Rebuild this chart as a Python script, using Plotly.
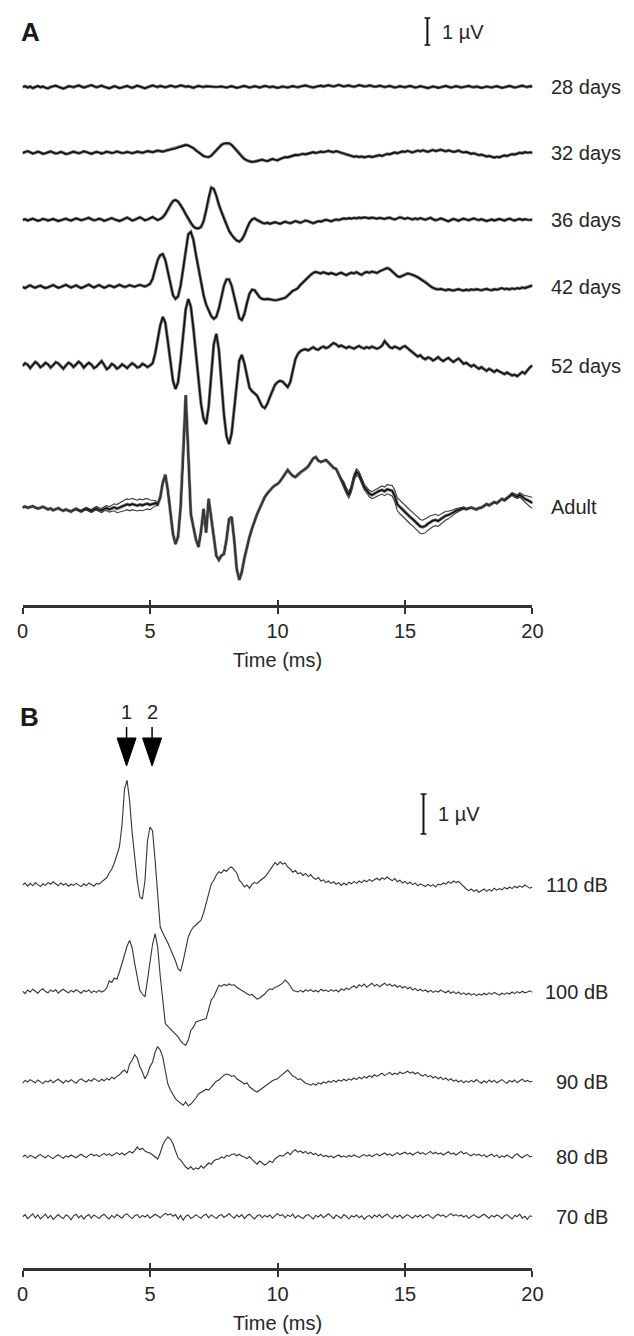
import numpy as np
import plotly.graph_objects as go

# ---------------- data (values in microvolts, sampled every 0.1 ms, 0-20 ms) ----------------
SAMPLE_MS = 0.1

A_LABELS = ["28 days", "32 days", "36 days", "42 days", "52 days", "Adult"]
B_LABELS = ["110 dB", "100 dB", "90 dB", "80 dB", "70 dB"]
TICKS_MS = [0, 5, 10, 15, 20]
WAVE_LATENCY_MS = [4.08, 5.08]
WAVE_NAMES = ["1", "2"]

d28 = [
    0.00, 0.03, -0.02, 0.02, -0.04, 0.01, 0.04, -0.01, 0.02, -0.03,
    -0.05, 0.00, 0.03, 0.05, 0.01, -0.03, -0.06, -0.02, 0.03, 0.02,
    -0.01, 0.03, 0.06, 0.02, -0.02, 0.01, 0.04, 0.07, 0.03, -0.01,
    0.02, 0.05, 0.01, -0.03, -0.05, -0.01, 0.03, 0.00, -0.04, -0.02,
    0.02, 0.04, 0.00, -0.03, 0.01, 0.05, 0.02, -0.02, -0.05, -0.01,
    0.03, 0.06, 0.03, 0.00, 0.04, 0.02, -0.01, 0.02, 0.05, 0.03,
    0.00, 0.03, 0.06, 0.04, 0.01, 0.03, 0.00, -0.03, 0.01, 0.04,
    0.02, 0.00, 0.03, 0.02, 0.01, 0.02, 0.00, 0.01, 0.02, 0.00,
    -0.02, 0.01, 0.03, 0.00, -0.03, -0.01, 0.02, 0.04, 0.01, -0.02,
    0.00, 0.03, 0.01, -0.02, 0.01, 0.04, 0.02, -0.01, 0.02, 0.00,
    -0.03, -0.01, 0.02, 0.00, -0.02, 0.01, 0.03, 0.01, -0.01, 0.02,
    0.04, 0.06, 0.03, 0.00, -0.02, 0.01, 0.04, 0.05, 0.02, 0.05,
    0.07, 0.04, 0.02, 0.05, 0.08, 0.05, 0.02, 0.04, 0.06, 0.03,
    0.01, 0.04, 0.07, 0.05, 0.02, 0.03, 0.06, 0.04, 0.01, 0.02,
    0.05, 0.03, 0.00, 0.02, 0.04, 0.01, -0.02, 0.00, 0.03, 0.01,
    -0.01, 0.02, 0.04, 0.01, -0.02, 0.00, 0.03, 0.01, -0.02, -0.04,
    -0.01, 0.02, 0.00, -0.03, -0.01, 0.02, 0.04, 0.01, -0.02, 0.00,
    0.03, 0.01, -0.02, 0.00, 0.02, 0.04, 0.01, -0.01, 0.02, 0.00,
    -0.03, -0.01, 0.02, 0.00, -0.02, 0.01, 0.03, 0.00, -0.03, -0.01,
    0.02, 0.04, 0.01, -0.02, 0.00, 0.03, 0.05, 0.02, 0.00, 0.03,
    0.02,
]

d32 = [
    0.00, 0.04, 0.07, 0.03, -0.02, 0.01, 0.05, 0.02, -0.03, -0.01,
    0.03, 0.06, 0.02, -0.02, 0.00, 0.04, 0.01, -0.04, -0.02, 0.02,
    0.05, 0.02, -0.01, 0.02, 0.06, 0.04, 0.00, -0.03, 0.01, 0.04,
    0.02, -0.02, 0.01, 0.05, 0.03, 0.00, 0.02, 0.06, 0.03, 0.00,
    0.01, 0.04, 0.02, -0.01, 0.02, 0.05, 0.03, 0.01, 0.04, 0.07,
    0.05, 0.03, 0.06, 0.09, 0.07, 0.05, 0.08, 0.11, 0.13, 0.15,
    0.17, 0.20, 0.24, 0.28, 0.30, 0.28, 0.24, 0.18, 0.10, 0.02,
    -0.05, -0.11, -0.14, -0.15, -0.10, 0.00, 0.12, 0.22, 0.30, 0.35,
    0.37, 0.36, 0.30, 0.20, 0.08, -0.04, -0.14, -0.22, -0.28, -0.31,
    -0.33, -0.32, -0.30, -0.27, -0.25, -0.28, -0.30, -0.26, -0.22, -0.25,
    -0.27, -0.22, -0.18, -0.15, -0.16, -0.12, -0.10, -0.07, -0.08, -0.05,
    -0.03, -0.05, -0.02, 0.01, 0.03, 0.00, 0.02, 0.05, 0.03, 0.06,
    0.08, 0.05, 0.03, 0.07, 0.04, 0.00, -0.03, -0.07, -0.10, -0.12,
    -0.14, -0.12, -0.15, -0.13, -0.16, -0.14, -0.12, -0.15, -0.13, -0.10,
    -0.08, -0.11, -0.07, -0.03, -0.05, -0.01, 0.02, -0.01, 0.03, 0.06,
    0.04, 0.08, 0.05, 0.02, 0.06, 0.09, 0.06, 0.10, 0.07, 0.04,
    0.08, 0.11, 0.07, 0.10, 0.12, 0.09, 0.06, 0.10, 0.07, 0.04,
    0.06, 0.09, 0.05, 0.02, 0.04, 0.00, -0.03, -0.01, -0.05, -0.08,
    -0.06, -0.10, -0.13, -0.11, -0.15, -0.17, -0.14, -0.16, -0.12, -0.09,
    -0.11, -0.07, -0.04, -0.06, -0.02, 0.01, -0.01, 0.03, 0.01, 0.03,
    0.02,
]

d36 = [
    0.00, 0.03, -0.02, 0.02, 0.05, 0.01, -0.03, 0.00, 0.04, 0.02,
    -0.02, 0.01, 0.04, 0.00, -0.04, -0.01, 0.03, 0.05, 0.01, -0.02,
    0.02, 0.06, 0.03, -0.01, 0.02, 0.05, 0.08, 0.03, -0.01, 0.01,
    0.05, 0.02, -0.03, 0.00, 0.04, 0.07, 0.03, -0.02, -0.04, 0.00,
    0.06, 0.09, 0.04, -0.02, 0.01, 0.07, 0.10, 0.05, -0.01, 0.02,
    0.08, 0.11, 0.05, 0.00, 0.04, 0.10, 0.22, 0.40, 0.58, 0.70,
    0.74, 0.68, 0.55, 0.40, 0.22, 0.05, -0.12, -0.24, -0.30, -0.31,
    -0.26, -0.05, 0.35, 0.85, 1.20, 1.15, 0.90, 0.55, 0.30, 0.05,
    -0.20, -0.40, -0.55, -0.68, -0.76, -0.80, -0.72, -0.55, -0.30, -0.10,
    0.02, 0.06, 0.00, -0.06, -0.10, -0.13, -0.10, -0.14, -0.12, -0.08,
    -0.11, -0.14, -0.10, -0.06, -0.09, -0.12, -0.08, -0.04, -0.07, -0.10,
    -0.06, -0.02, -0.05, -0.09, -0.12, -0.08, -0.04, -0.06, -0.02, 0.01,
    -0.02, -0.05, -0.01, 0.02, 0.00, 0.03, 0.06, 0.04, 0.07, 0.05,
    0.08, 0.06, 0.09, 0.07, 0.10, 0.08, 0.06, 0.09, 0.07, 0.05,
    0.08, 0.06, 0.04, 0.07, 0.09, 0.05, 0.02, 0.06, 0.10, 0.07,
    0.04, 0.08, 0.05, 0.02, 0.06, 0.03, 0.07, 0.04, 0.01, 0.05,
    0.08, 0.03, -0.01, 0.02, 0.06, 0.03, -0.02, -0.05, 0.00, 0.04,
    0.01, -0.03, 0.02, 0.05, 0.02, -0.01, 0.03, 0.06, 0.02, 0.00,
    0.03, 0.00, -0.04, -0.01, 0.02, -0.02, 0.01, 0.04, 0.01, -0.02,
    0.02, 0.05, 0.01, -0.02, 0.02, 0.04, 0.00, 0.03, 0.01, 0.00,
    0.02,
]

d42 = [
    0.00, -0.04, 0.02, 0.06, 0.01, -0.03, 0.02, 0.05, 0.00, -0.04,
    -0.01, 0.04, 0.07, 0.02, -0.03, 0.00, 0.05, 0.08, 0.03, -0.02,
    0.02, 0.06, 0.01, -0.04, 0.00, 0.05, 0.09, 0.03, -0.02, 0.03,
    0.07, 0.02, -0.03, 0.01, 0.06, 0.03, -0.01, 0.04, 0.08, 0.04,
    0.00, 0.03, 0.07, 0.04, 0.01, 0.05, 0.08, 0.05, 0.02, 0.06,
    0.12, 0.30, 0.65, 1.00, 1.18, 1.22, 1.00, 0.55, 0.05, -0.30,
    -0.44, -0.35, 0.05, 0.70, 1.45, 1.95, 2.04, 1.75, 1.20, 0.65,
    0.15, -0.30, -0.65, -0.90, -1.08, -1.18, -1.10, -0.80, -0.35, 0.05,
    0.28, 0.28, 0.05, -0.35, -0.80, -1.15, -1.22, -1.00, -0.60, -0.25,
    -0.10, -0.12, -0.25, -0.38, -0.44, -0.46, -0.44, -0.46, -0.48, -0.49,
    -0.48, -0.46, -0.44, -0.40, -0.32, -0.22, -0.14, -0.10, -0.04, 0.08,
    0.18, 0.28, 0.37, 0.45, 0.52, 0.56, 0.53, 0.50, 0.55, 0.52,
    0.48, 0.52, 0.49, 0.45, 0.50, 0.53, 0.48, 0.44, 0.49, 0.53,
    0.50, 0.55, 0.49, 0.45, 0.52, 0.56, 0.53, 0.57, 0.55, 0.52,
    0.58, 0.63, 0.68, 0.70, 0.66, 0.58, 0.48, 0.40, 0.37, 0.42,
    0.47, 0.50, 0.48, 0.45, 0.42, 0.36, 0.30, 0.25, 0.18, 0.10,
    0.02, -0.04, -0.07, -0.09, -0.07, -0.10, -0.12, -0.09, -0.11, -0.13,
    -0.10, -0.08, -0.11, -0.13, -0.10, -0.12, -0.09, -0.11, -0.08, -0.10,
    -0.12, -0.09, -0.07, -0.10, -0.12, -0.08, -0.10, -0.07, -0.04, -0.08,
    -0.06, -0.09, -0.05, -0.08, -0.04, -0.06, -0.02, -0.04, 0.00, 0.03,
    0.06,
]

d52 = [
    0.00, 0.10, 0.05, -0.08, 0.04, 0.15, 0.08, -0.05, 0.02, 0.12,
    0.06, -0.06, 0.03, 0.14, 0.10, 0.00, -0.10, 0.02, 0.12, 0.07,
    -0.04, 0.06, 0.16, 0.08, -0.06, 0.04, 0.12, 0.05, -0.08, -0.02,
    0.10, 0.18, 0.04, -0.12, -0.05, 0.08, 0.02, -0.10, -0.04, 0.06,
    0.00, -0.08, 0.02, 0.10, 0.04, -0.06, -0.02, 0.08, 0.03, -0.04,
    0.02, 0.10, 0.45, 0.95, 1.50, 1.82, 1.60, 0.90, 0.10, -0.55,
    -0.85, -0.60, 0.20, 1.20, 2.10, 2.48, 2.20, 1.40, 0.40, -0.60,
    -1.40, -1.95, -2.15, -1.50, -0.30, 0.80, 1.19, 0.60, -0.60, -1.80,
    -2.60, -2.89, -2.50, -1.60, -0.60, 0.20, 0.41, 0.10, -0.35, -0.80,
    -0.93, -1.00, -1.10, -1.30, -1.50, -1.56, -1.40, -1.15, -0.90, -0.70,
    -0.60, -0.55, -0.58, -0.70, -0.78, -0.60, -0.15, 0.25, 0.45, 0.55,
    0.60, 0.62, 0.58, 0.65, 0.70, 0.63, 0.60, 0.68, 0.72, 0.66,
    0.70, 0.78, 0.85, 0.80, 0.72, 0.76, 0.70, 0.66, 0.72, 0.68,
    0.64, 0.70, 0.74, 0.68, 0.65, 0.70, 0.66, 0.72, 0.69, 0.64,
    0.68, 0.75, 0.92, 0.80, 0.70, 0.66, 0.72, 0.68, 0.63, 0.70,
    0.74, 0.66, 0.58, 0.50, 0.42, 0.35, 0.40, 0.30, 0.25, 0.32,
    0.28, 0.20, 0.26, 0.33, 0.24, 0.18, 0.25, 0.30, 0.22, 0.15,
    0.22, 0.28, 0.18, 0.08, 0.12, 0.05, -0.02, 0.04, -0.05, -0.10,
    -0.04, -0.12, -0.18, -0.10, -0.16, -0.22, -0.15, -0.20, -0.26, -0.30,
    -0.24, -0.30, -0.35, -0.32, -0.38, -0.30, -0.22, -0.28, -0.15, -0.05,
    0.02,
]

d_adult = [
    -0.02, 0.02, -0.03, -0.01, 0.03, -0.02, -0.06, -0.03, 0.01, -0.04,
    -0.09, -0.05, -0.12, -0.08, -0.04, -0.10, -0.14, -0.09, -0.13, -0.17,
    -0.11, -0.07, -0.12, -0.16, -0.10, -0.06, -0.11, -0.15, -0.09, -0.05,
    -0.10, -0.13, -0.07, -0.04, -0.09, -0.05, -0.01, -0.06, -0.02, 0.03,
    0.06, 0.10, 0.07, 0.11, 0.08, 0.05, 0.09, 0.06, 0.10, 0.12,
    0.08, 0.11, 0.14, 0.10, 0.35, 0.90, 1.19, 0.60, -0.30, -1.00,
    -1.37, -1.10, 0.00, 1.80, 4.15, 2.00, -0.26, -0.74, -1.20, -1.48,
    -0.90, -0.07, -0.95, 0.30, -0.40, -1.30, -1.80, -1.96, -1.80, -1.74,
    -1.20, -0.45, -0.37, -1.20, -2.30, -2.70, -2.40, -1.90, -1.45, -1.11,
    -0.80, -0.50, -0.26, -0.05, 0.15, 0.37, 0.50, 0.62, 0.72, 0.80,
    0.85, 0.95, 1.10, 1.25, 1.37, 1.25, 1.15, 1.11, 1.20, 1.30,
    1.35, 1.41, 1.50, 1.65, 1.80, 1.85, 1.72, 1.67, 1.70, 1.74,
    1.65, 1.55, 1.45, 1.41, 1.20, 1.00, 0.85, 0.60, 0.44, 0.70,
    1.10, 1.30, 1.20, 0.95, 0.74, 0.62, 0.50, 0.44, 0.48, 0.55,
    0.60, 0.63, 0.58, 0.66, 0.63, 0.60, 0.40, 0.10, 0.00, -0.10,
    -0.20, -0.28, -0.37, -0.45, -0.55, -0.65, -0.72, -0.74, -0.70, -0.62,
    -0.55, -0.50, -0.48, -0.52, -0.45, -0.38, -0.32, -0.30, -0.26, -0.20,
    -0.14, -0.10, -0.07, -0.04, -0.08, -0.05, -0.02, -0.06, -0.09, -0.04,
    -0.02, 0.04, 0.11, 0.06, 0.12, 0.18, 0.14, 0.22, 0.30, 0.25,
    0.32, 0.40, 0.48, 0.42, 0.38, 0.45, 0.37, 0.30, 0.26, 0.19,
    0.15,
]

# spread between the individual adult recordings (half-width, microvolts)
adult_spread = [
    0, 0, 0, 0, 0, 0, 0, 0, 0, 0,
    0, 0, 0, 0, 0, 0, 0, 0, 0, 0,
    0.02, 0.03, 0.03, 0.04, 0.04, 0.05, 0.05, 0.06, 0.06, 0.07,
    0.07, 0.08, 0.08, 0.09, 0.10, 0.11, 0.13, 0.15, 0.17, 0.19,
    0.20, 0.20, 0.21, 0.21, 0.20, 0.20, 0.21, 0.20, 0.20, 0.19,
    0.18, 0.15, 0.10, 0.05, 0.02, 0, 0, 0, 0, 0,
    0, 0, 0, 0, 0, 0, 0, 0, 0, 0,
    0, 0, 0, 0, 0, 0, 0, 0, 0, 0,
    0, 0, 0, 0, 0, 0, 0, 0, 0, 0,
    0, 0, 0, 0, 0, 0, 0, 0, 0, 0,
    0, 0, 0, 0, 0, 0, 0, 0, 0, 0,
    0, 0, 0, 0, 0, 0, 0, 0, 0, 0,
    0, 0, 0, 0, 0.03, 0.06, 0.09, 0.11, 0.12, 0.12,
    0.12, 0.12, 0.11, 0.10, 0.10, 0.11, 0.12, 0.13, 0.14, 0.15,
    0.15, 0.15, 0.16, 0.17, 0.18, 0.20, 0.22, 0.24, 0.25, 0.25,
    0.25, 0.25, 0.25, 0.25, 0.25, 0.26, 0.26, 0.25, 0.25, 0.24,
    0.23, 0.22, 0.21, 0.20, 0.19, 0.18, 0.16, 0.14, 0.12, 0.10,
    0.08, 0.06, 0.05, 0.04, 0.03, 0.02, 0.02, 0.02, 0.02, 0.02,
    0.02, 0.02, 0.02, 0.02, 0.02, 0.02, 0.02, 0.02, 0.02, 0.03,
    0.03, 0.04, 0.05, 0.06, 0.07, 0.08, 0.10, 0.12, 0.15, 0.18,
    0.20,
]

b110 = [
    0.00, 0.05, -0.03, 0.04, -0.02, 0.06, 0.01, -0.04, 0.03, -0.01,
    0.06, 0.02, 0.08, 0.03, -0.02, 0.05, 0.00, 0.04, -0.03, 0.02,
    -0.01, 0.04, 0.00, -0.04, 0.03, -0.02, 0.05, 0.01, -0.03, 0.04,
    0.02, 0.08, 0.12, 0.18, 0.30, 0.40, 0.55, 0.75, 0.95, 1.50,
    2.40, 2.62, 2.10, 1.30, 0.70, 0.10, -0.30, -0.35, 0.10, 1.10,
    1.45, 1.35, 0.60, -0.20, -1.05, -1.20, -1.32, -1.45, -1.60, -1.75,
    -1.90, -2.10, -2.15, -1.90, -1.60, -1.30, -1.15, -1.05, -1.00, -0.95,
    -0.88, -0.70, -0.45, -0.20, 0.02, 0.12, 0.25, 0.33, 0.30, 0.38,
    0.34, 0.42, 0.45, 0.38, 0.30, 0.12, 0.05, -0.05, 0.00, -0.08,
    0.02, 0.06, 0.04, 0.10, 0.15, 0.20, 0.28, 0.38, 0.48, 0.56,
    0.50, 0.58, 0.52, 0.55, 0.45, 0.40, 0.32, 0.36, 0.28, 0.31,
    0.24, 0.29, 0.21, 0.26, 0.18, 0.14, 0.19, 0.10, 0.13, 0.06,
    0.10, 0.04, 0.08, 0.02, 0.06, -0.01, 0.05, 0.00, 0.07, 0.03,
    0.09, 0.04, 0.10, 0.06, 0.12, 0.08, 0.14, 0.09, 0.13, 0.17,
    0.12, 0.18, 0.14, 0.20, 0.15, 0.11, 0.16, 0.08, 0.12, 0.05,
    0.09, 0.03, 0.07, 0.01, 0.05, -0.02, 0.03, 0.00, -0.04, 0.02,
    -0.03, 0.01, -0.05, 0.02, 0.00, 0.05, 0.02, 0.08, 0.04, 0.10,
    0.06, 0.09, 0.03, -0.05, -0.10, -0.14, -0.10, -0.16, -0.12, -0.18,
    -0.14, -0.10, -0.16, -0.11, -0.15, -0.08, -0.13, -0.09, -0.12, -0.06,
    -0.10, -0.05, -0.09, -0.03, -0.07, -0.02, -0.06, 0.00, -0.04, -0.08,
    -0.05,
]

b100 = [
    0.02, -0.04, 0.05, 0.00, 0.07, 0.02, -0.03, 0.04, 0.08, 0.01,
    -0.02, 0.05, 0.01, 0.06, -0.03, 0.03, 0.07, 0.02, -0.02, 0.04,
    0.00, 0.06, 0.02, -0.03, 0.04, 0.01, 0.05, -0.02, 0.03, -0.01,
    0.04, 0.00, 0.03, 0.10, 0.28, 0.24, 0.35, 0.32, 0.50, 0.72,
    0.95, 1.15, 1.29, 1.10, 0.71, 0.40, 0.04, -0.05, -0.12, 0.30,
    0.70, 1.20, 1.46, 1.12, 0.40, -0.12, -0.79, -0.86, -0.92, -0.98,
    -1.04, -1.12, -1.22, -1.29, -1.33, -1.20, -0.96, -0.88, -0.75, -0.72,
    -0.70, -0.68, -0.67, -0.40, -0.20, -0.12, 0.05, 0.17, 0.14, 0.19,
    0.16, 0.20, 0.17, 0.18, 0.12, 0.08, 0.05, 0.00, -0.04, -0.08,
    -0.06, -0.12, -0.18, -0.15, -0.10, -0.05, 0.03, 0.08, 0.06, 0.12,
    0.14, 0.18, 0.22, 0.30, 0.24, 0.15, 0.05, 0.02, 0.00, 0.04,
    0.00, 0.05, 0.02, 0.06, 0.01, 0.04, 0.00, 0.07, 0.03, 0.05,
    0.01, 0.06, 0.02, 0.05, 0.00, 0.08, 0.04, 0.10, 0.06, 0.12,
    0.15, 0.10, 0.18, 0.14, 0.20, 0.12, 0.17, 0.22, 0.15, 0.19,
    0.13, 0.18, 0.22, 0.16, 0.20, 0.14, 0.18, 0.12, 0.16, 0.10,
    0.14, 0.08, 0.12, 0.05, 0.09, 0.03, 0.07, 0.02, 0.05, 0.00,
    0.04, -0.01, 0.03, 0.00, 0.05, 0.01, -0.02, 0.03, -0.03, 0.01,
    -0.04, 0.00, -0.06, -0.02, -0.07, -0.03, -0.08, -0.04, -0.09, -0.05,
    -0.08, -0.03, -0.07, -0.02, -0.06, -0.01, -0.05, -0.08, -0.03, -0.06,
    -0.02, -0.05, 0.00, -0.04, 0.01, -0.03, 0.02, -0.02, 0.00, 0.03,
    -0.01,
]

b90 = [
    -0.03, 0.04, 0.00, 0.06, 0.02, -0.02, 0.05, 0.01, -0.04, 0.03,
    0.00, 0.05, -0.02, 0.03, 0.07, 0.02, -0.03, 0.04, 0.00, 0.06,
    0.02, -0.03, 0.04, 0.08, 0.03, 0.00, 0.06, 0.02, 0.09, 0.04,
    0.01, 0.07, 0.03, 0.09, 0.05, 0.12, 0.08, 0.14, 0.18, 0.25,
    0.30, 0.22, 0.45, 0.55, 0.68, 0.60, 0.38, 0.25, 0.08, 0.20,
    0.38, 0.50, 0.75, 0.88, 0.80, 0.62, 0.30, -0.05, -0.20, -0.30,
    -0.42, -0.48, -0.52, -0.58, -0.50, -0.60, -0.55, -0.48, -0.40, -0.30,
    -0.26, -0.22, -0.18, -0.20, -0.12, -0.05, 0.02, 0.05, 0.12, 0.17,
    0.20, 0.18, 0.14, 0.16, 0.08, 0.05, 0.00, -0.05, -0.02, -0.12,
    -0.18, -0.22, -0.25, -0.20, -0.15, -0.12, -0.06, -0.02, 0.03, 0.06,
    0.08, 0.14, 0.20, 0.26, 0.30, 0.22, 0.15, 0.12, 0.06, 0.08,
    0.02, -0.03, -0.05, -0.08, -0.04, -0.08, -0.02, -0.05, 0.00, -0.03,
    0.02, -0.01, 0.04, 0.00, 0.05, 0.02, 0.07, 0.03, 0.08, 0.05,
    0.10, 0.06, 0.12, 0.08, 0.14, 0.10, 0.16, 0.12, 0.18, 0.14,
    0.18, 0.22, 0.16, 0.20, 0.24, 0.18, 0.22, 0.19, 0.25, 0.21,
    0.23, 0.27, 0.22, 0.25, 0.20, 0.24, 0.18, 0.15, 0.19, 0.13,
    0.16, 0.10, 0.14, 0.08, 0.12, 0.06, 0.10, 0.04, 0.08, 0.02,
    0.05, 0.00, 0.04, -0.02, 0.03, -0.01, 0.04, 0.00, 0.06, 0.01,
    -0.03, 0.03, -0.02, 0.05, 0.00, 0.04, -0.02, 0.02, 0.06, 0.01,
    -0.03, 0.04, 0.00, 0.05, -0.02, 0.03, 0.07, 0.01, 0.04, 0.00,
    0.02,
]

b80 = [
    0.00, 0.05, -0.02, 0.04, 0.01, -0.03, 0.03, 0.06, 0.01, -0.02,
    0.04, 0.00, -0.04, 0.02, 0.05, 0.01, -0.03, 0.03, 0.00, 0.05,
    0.02, -0.02, 0.03, 0.07, 0.02, -0.01, 0.04, 0.08, 0.03, 0.06,
    0.01, 0.05, 0.09, 0.04, 0.08, 0.03, 0.07, 0.11, 0.06, 0.10,
    0.05, 0.09, 0.14, 0.10, 0.16, 0.25, 0.18, 0.22, 0.15, 0.12,
    0.10, 0.05, 0.00, -0.05, 0.10, 0.30, 0.42, 0.50, 0.45, 0.33,
    0.15, -0.02, -0.08, -0.18, -0.25, -0.30, -0.24, -0.32, -0.27, -0.30,
    -0.22, -0.28, -0.20, -0.15, -0.18, -0.10, -0.06, -0.05, 0.00, -0.03,
    0.04, 0.02, 0.06, 0.08, 0.03, 0.07, 0.02, 0.00, -0.04, 0.01,
    -0.06, -0.12, -0.18, -0.10, -0.15, -0.20, -0.16, -0.10, -0.14, -0.05,
    0.00, 0.04, 0.02, 0.08, 0.12, 0.06, 0.14, 0.18, 0.12, 0.15,
    0.10, 0.14, 0.08, 0.12, 0.06, 0.09, 0.03, 0.07, 0.01, 0.04,
    0.00, 0.03, -0.02, 0.02, 0.05, 0.00, 0.03, -0.01, 0.04, 0.01,
    0.05, 0.02, -0.01, 0.03, 0.06, 0.02, 0.05, 0.01, 0.04, 0.08,
    0.03, 0.06, 0.10, 0.05, 0.08, 0.03, 0.07, 0.11, 0.06, 0.09,
    0.12, 0.07, 0.10, 0.05, 0.09, 0.13, 0.08, 0.11, 0.06, 0.10,
    0.14, 0.08, 0.12, 0.07, 0.10, 0.05, 0.09, 0.13, 0.07, 0.10,
    0.05, 0.09, 0.14, 0.08, 0.11, 0.06, 0.03, 0.08, 0.04, 0.07,
    0.02, 0.06, 0.00, 0.04, 0.07, 0.01, 0.05, -0.02, 0.03, 0.00,
    0.05, 0.01, -0.03, 0.04, 0.08, 0.02, -0.02, 0.03, 0.06, 0.00,
    0.02,
]

b70 = [
    0.00, 0.06, -0.04, 0.03, 0.08, -0.02, 0.05, -0.05, 0.02, 0.07,
    -0.03, 0.04, -0.06, 0.01, 0.06, 0.00, -0.04, 0.05, 0.02, -0.07,
    0.03, 0.07, -0.02, 0.04, -0.05, 0.02, 0.06, -0.03, 0.05, 0.01,
    -0.04, 0.03, 0.07, 0.00, -0.05, 0.04, -0.02, 0.06, 0.02, -0.03,
    0.05, 0.08, 0.01, -0.04, 0.03, 0.06, -0.02, 0.04, 0.00, 0.05,
    -0.03, 0.02, 0.07, 0.03, -0.02, 0.04, 0.09, 0.05, 0.08, 0.02,
    0.06, -0.05, 0.04, -0.08, 0.02, 0.05, -0.04, 0.00, 0.06, 0.01,
    -0.03, 0.04, 0.07, -0.02, 0.05, 0.01, -0.04, 0.03, 0.06, -0.01,
    0.04, 0.08, 0.02, -0.03, 0.05, 0.00, 0.06, -0.04, 0.03, 0.07,
    0.01, -0.05, 0.03, 0.06, -0.02, 0.04, 0.00, 0.05, -0.03, 0.02,
    0.09, 0.03, 0.06, -0.02, 0.05, 0.01, 0.07, -0.03, 0.04, 0.00,
    -0.04, 0.03, 0.06, 0.01, -0.05, 0.04, 0.00, 0.06, -0.02, 0.03,
    0.08, 0.02, -0.04, 0.05, 0.01, -0.03, 0.06, 0.02, -0.05, 0.03,
    0.00, 0.05, -0.02, 0.03, -0.06, 0.01, 0.04, -0.03, 0.05, 0.00,
    0.06, -0.02, 0.03, 0.07, 0.01, -0.04, 0.04, 0.00, 0.05, -0.03,
    0.02, 0.06, 0.01, -0.03, 0.04, 0.00, 0.05, -0.02, 0.03, 0.06,
    0.01, -0.04, 0.03, 0.07, 0.02, 0.05, -0.01, 0.04, 0.09, 0.03,
    0.06, 0.02, 0.05, 0.00, 0.04, -0.03, 0.02, 0.06, 0.01, -0.02,
    0.03, 0.07, 0.02, -0.03, 0.04, 0.00, 0.05, 0.02, -0.04, 0.03,
    0.06, 0.00, -0.05, 0.04, 0.01, 0.07, -0.03, 0.02, -0.06, 0.03,
    0.01,
]

A_SERIES = [d28, d32, d36, d42, d52, d_adult]
B_SERIES = [b110, b100, b90, b80, b70]

# ---------------- layout constants (pixels of the 634 x 1336 page) ----------------
W, H = 634, 1336
X0_PX, X1_PX = 17, 541          # 0 ms and 20 ms
A_PX_PER_UV, B_PX_PER_UV = 27, 40
A_BASE_PX = [87, 153, 220, 287, 366, 507]
B_BASE_PX = [885, 992, 1082, 1157, 1217]
A_AXIS_PX, B_AXIS_PX = 606, 1269
FONT = "Liberation Sans, Arial, Helvetica, sans-serif"
FS = 20
INK = "#262626"


def fy(px):
    return 1 - px / H


def times(vals):
    return np.round(np.arange(len(vals)) * SAMPLE_MS, 3)


fig = go.Figure()

# Panel A traces
for vals, base in zip(A_SERIES, A_BASE_PX):
    off = -base / A_PX_PER_UV
    y = np.array(vals) + off
    t = times(vals)
    fig.add_trace(go.Scatter(x=t, y=y, mode="lines", xaxis="x", yaxis="y",
                             line=dict(color="#7a7a7a", width=3.2), hoverinfo="skip", showlegend=False))
    fig.add_trace(go.Scatter(x=t, y=y, mode="lines", xaxis="x", yaxis="y",
                             line=dict(color="#111111", width=1.6), hoverinfo="skip", showlegend=False))

# Adult individual recordings (upper/lower)
adult_off = -A_BASE_PX[5] / A_PX_PER_UV
for sign in (1, -1):
    y = np.array(d_adult) + sign * np.array(adult_spread) + adult_off
    fig.add_trace(go.Scatter(x=times(d_adult), y=y, mode="lines", xaxis="x", yaxis="y",
                             line=dict(color="#3a3a3a", width=1.1), hoverinfo="skip", showlegend=False))

# Panel B traces
for vals, base in zip(B_SERIES, B_BASE_PX):
    off = -base / B_PX_PER_UV
    fig.add_trace(go.Scatter(x=times(vals), y=np.array(vals) + off, mode="lines", xaxis="x2", yaxis="y2",
                             line=dict(color="#333333", width=1.1), hoverinfo="skip", showlegend=False))

# empty traces so the tick-overlay axes are drawn
fig.add_trace(go.Scatter(x=[None], y=[None], xaxis="x3", yaxis="y", showlegend=False, hoverinfo="skip"))
fig.add_trace(go.Scatter(x=[None], y=[None], xaxis="x4", yaxis="y2", showlegend=False, hoverinfo="skip"))

xdom = [X0_PX / W, X1_PX / W]
common_x = dict(domain=xdom, range=[0, 20], showgrid=False, zeroline=False, fixedrange=True)
main_x = dict(common_x, anchor="free", showline=True, linecolor="#333333", linewidth=2.5,
              ticks="outside", ticklen=6, tickwidth=2, tickcolor="#333333",
              tickvals=TICKS_MS, ticktext=[str(v) for v in TICKS_MS],
              tickfont=dict(family=FONT, size=FS, color=INK),
              title=dict(text="Time (ms)", font=dict(family=FONT, size=FS, color=INK), standoff=12))
over_x = dict(common_x, anchor="free", showline=False, ticks="inside", ticklen=6, tickwidth=2,
              tickcolor="#333333", tickvals=TICKS_MS, showticklabels=False)

fig.update_layout(
    width=W, height=H, margin=dict(l=0, r=0, t=0, b=0),
    paper_bgcolor="white", plot_bgcolor="rgba(0,0,0,0)",
    xaxis=dict(main_x, position=fy(A_AXIS_PX)),
    xaxis2=dict(main_x, position=fy(B_AXIS_PX)),
    xaxis3=dict(over_x, overlaying="x", position=fy(A_AXIS_PX)),
    xaxis4=dict(over_x, overlaying="x2", position=fy(B_AXIS_PX)),
    yaxis=dict(domain=[0, 1], range=[-H / A_PX_PER_UV, 0], visible=False, fixedrange=True),
    yaxis2=dict(domain=[0, 1], range=[-H / B_PX_PER_UV, 0], visible=False, fixedrange=True,
                anchor="x2"),
    showlegend=False,
)

ann = []
shapes = []
# condition labels
for lab, base in zip(A_LABELS, A_BASE_PX):
    ann.append(dict(text=lab, x=558 / W, xref="paper", xanchor="left", y=fy(base), yref="paper",
                    yanchor="middle", showarrow=False, font=dict(family=FONT, size=FS, color=INK)))
for lab, base in zip(B_LABELS, B_BASE_PX):
    ann.append(dict(text=lab, x=621 / W, xref="paper", xanchor="right", y=fy(base), yref="paper",
                    yanchor="middle", showarrow=False, font=dict(family=FONT, size=FS, color=INK)))

# panel letters
ann.append(dict(text="<b>A</b>", x=13 / W, xref="paper", xanchor="left", y=fy(32), yref="paper",
                yanchor="middle", showarrow=False, font=dict(family=FONT, size=26, color="#1a1a1a")))
ann.append(dict(text="<b>B</b>", x=12 / W, xref="paper", xanchor="left", y=fy(717), yref="paper",
                yanchor="middle", showarrow=False, font=dict(family=FONT, size=26, color="#1a1a1a")))

# scale bars (1 microvolt in each panel's units)
for bx, top_px, yref, ppu, tx in [(433, 18, "y", A_PX_PER_UV, 446), (429, 794, "y2", B_PX_PER_UV, 442)]:
    y_top = -top_px / ppu
    y_bot = y_top - 1.0
    shapes.append(dict(type="line", xref="paper", yref=yref, x0=bx / W, x1=bx / W, y0=y_bot, y1=y_top,
                       line=dict(color="#111111", width=2)))
    for yy in (y_bot, y_top):
        shapes.append(dict(type="line", xref="paper", yref=yref, x0=(bx - 3) / W, x1=(bx + 3) / W,
                           y0=yy, y1=yy, line=dict(color="#111111", width=1.5)))
    ann.append(dict(text="1 \u00b5V", x=tx / W, xref="paper", xanchor="left",
                    y=(y_top + y_bot) / 2, yref=yref, yanchor="middle", showarrow=False,
                    font=dict(family=FONT, size=FS, color=INK)))

# wave arrows in panel B
for lat, name in zip(WAVE_LATENCY_MS, WAVE_NAMES):
    shapes.append(dict(type="path", xref="x2", xsizemode="pixel", xanchor=lat,
                       yref="paper", ysizemode="pixel", yanchor=fy(766),
                       path="M-9.5,28 L9.5,28 L0,0 Z", fillcolor="#000000",
                       line=dict(color="#000000", width=1)))
    shapes.append(dict(type="line", xref="x2", xsizemode="pixel", xanchor=lat,
                       yref="paper", ysizemode="pixel", yanchor=fy(766),
                       x0=0, x1=0, y0=28, y1=39, line=dict(color="#000000", width=1.5)))
    ann.append(dict(text=name, x=lat, xref="x2", xanchor="center", y=fy(712), yref="paper",
                    yanchor="middle", showarrow=False, font=dict(family=FONT, size=FS, color=INK)))

fig.update_layout(annotations=ann, shapes=shapes)
fig.write_html("out.html")
